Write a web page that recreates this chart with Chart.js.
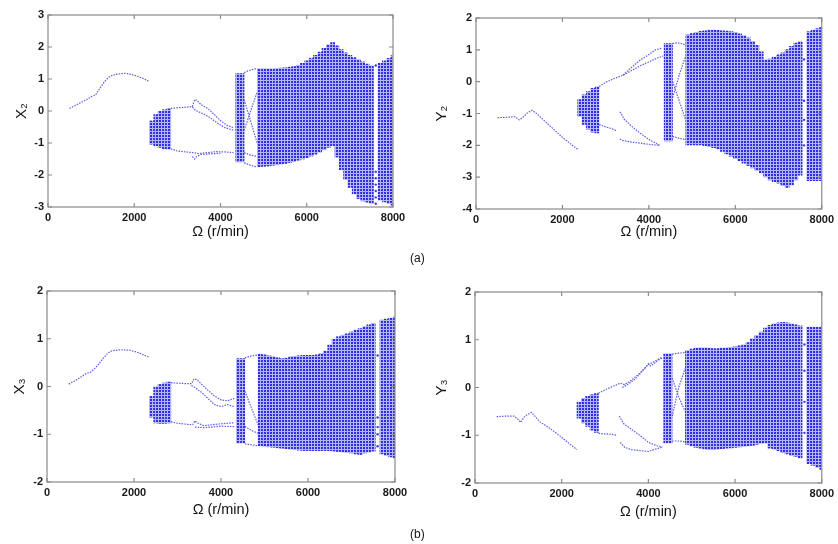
<!DOCTYPE html>
<html>
<head>
<meta charset="utf-8">
<script src="https://cdn.jsdelivr.net/npm/chart.js@4.4.0/dist/chart.umd.min.js"></script>
<style>
body { margin: 0; background: #fff; }
#wrap { position: relative; width: 838px; height: 544px; background: #fff; overflow: hidden; font-family: "Liberation Sans", Arial, sans-serif; }
canvas { position: absolute; }
.tag { position: absolute; font-size: 12px; color: #111; }
</style>
</head>
<body>
<div id="wrap">
  <canvas id="c1" width="418" height="262" style="left:0px;top:0px"></canvas>
  <canvas id="c2" width="418" height="262" style="left:420px;top:0px"></canvas>
  <canvas id="c3" width="418" height="262" style="left:0px;top:270px"></canvas>
  <canvas id="c4" width="418" height="262" style="left:420px;top:270px"></canvas>
  <div class="tag" style="left:410px;top:251px">(a)</div>
  <div class="tag" style="left:410px;top:527px">(b)</div>
</div>
<script>
// speed grid of the chaotic bands (r/min)
const bandAOmega = [2400, 2500, 2600, 2700, 2800];
const bandBOmega = [4400, 4500];
const bandCOmega = [4900, 5000, 5100, 5200, 5300, 5400, 5500, 5600, 5700, 5800, 5900, 6000, 6100, 6200,
  6300, 6400, 6500, 6600, 6700, 6800, 6900, 7000, 7100, 7200, 7300, 7400, 7500];
const bandDOmega = [7700, 7800, 7900, 8000];
const omegaTicks = [0, 2000, 4000, 6000, 8000];

// X2
const x2BandALow = [-1.05, -1.1, -1.15, -1.2, -1.2];
const x2BandAHigh = [-0.3, -0.1, 0.0, 0.05, 0.08];
const x2BandBLow = [-1.6, -1.6];
const x2BandBHigh = [1.18, 1.18];
const x2BandCLow = [-1.75, -1.74, -1.73, -1.71, -1.69, -1.67, -1.65, -1.62, -1.59, -1.55, -1.51, -1.47, -1.42, -1.36,
  -1.3, -1.22, -1.15, -1.1, -1.45, -1.85, -2.15, -2.4, -2.6, -2.75, -2.82, -2.86, -2.9];
const x2BandCHigh = [1.33, 1.33, 1.33, 1.33, 1.34, 1.35, 1.36, 1.38, 1.4, 1.44, 1.5, 1.58, 1.66, 1.75,
  1.85, 1.97, 2.08, 2.15, 2.05, 1.93, 1.83, 1.75, 1.68, 1.62, 1.55, 1.48, 1.42];
const x2BandDLow = [-2.8, -2.85, -2.9, -2.95];
const x2BandDHigh = [1.5, 1.58, 1.66, 1.74];
const x2Curves = [
  [[500, 0.08], [700, 0.22], [900, 0.36], [1000, 0.45], [1100, 0.5], [1200, 0.7], [1300, 0.9], [1400, 1.05], [1500, 1.12], [1600, 1.15], [1800, 1.18], [2000, 1.12], [2200, 1.02], [2350, 0.92]],
  [[2850, 0.08], [3000, 0.1], [3200, 0.12], [3350, 0.14], [3400, 0.36], [3450, 0.33], [3550, 0.2], [3700, 0.08], [3850, -0.1], [4000, -0.3], [4150, -0.45], [4300, -0.52]],
  [[3350, 0.12], [3420, 0.02], [3500, -0.03], [3650, -0.12], [3800, -0.25], [3950, -0.4], [4100, -0.52], [4300, -0.6]],
  [[2850, -1.18], [3000, -1.25], [3200, -1.28], [3350, -1.3], [3500, -1.33], [3700, -1.3], [3900, -1.27], [4100, -1.28], [4300, -1.3]],
  [[3350, -1.42], [3400, -1.5], [3450, -1.42], [3550, -1.36], [3750, -1.34], [4000, -1.32]],
  [[4550, 1.2], [4650, 1.26], [4750, 1.3], [4850, 1.32]],
  [[4550, -1.3], [4700, -1.38], [4850, -1.42]],
  [[4550, -1.62], [4700, -1.7], [4850, -1.75]],
  [[4550, 0.35], [4650, -0.1], [4750, -0.55], [4850, -1.0]],
  [[4550, -0.6], [4700, 0.0], [4850, 0.6]]
];
const x2Dots = [[7600, 1.42], [7600, -1.9], [7600, -2.1], [7600, -2.3], [7600, -2.5], [7600, -2.7], [7600, -2.9]];

// Y2
const y2BandALow = [-1.1, -1.35, -1.5, -1.6, -1.62];
const y2BandAHigh = [-0.55, -0.4, -0.3, -0.2, -0.15];
const y2BandBLow = [-1.87, -1.87];
const y2BandBHigh = [1.21, 1.21];
const y2BandCLow = [-2.0, -2.0, -2.0, -2.0, -2.02, -2.05, -2.08, -2.12, -2.2, -2.28, -2.35, -2.42, -2.5, -2.57,
  -2.65, -2.72, -2.8, -2.88, -3.0, -3.1, -3.15, -3.2, -3.28, -3.33, -3.25, -3.1, -2.95];
const y2BandCHigh = [1.48, 1.52, 1.56, 1.59, 1.61, 1.63, 1.63, 1.62, 1.61, 1.6, 1.58, 1.56, 1.51, 1.46,
  1.39, 1.28, 1.15, 0.95, 0.7, 0.72, 0.78, 0.85, 0.92, 1.02, 1.12, 1.22, 1.27];
const y2BandDLow = [-3.12, -3.12, -3.12, -3.12];
const y2BandDHigh = [1.58, 1.63, 1.68, 1.72];
const y2Curves = [
  [[500, -1.13], [700, -1.12], [900, -1.1], [1000, -1.2], [1100, -1.1], [1200, -0.97], [1300, -0.9], [1400, -1.0], [1600, -1.25], [1800, -1.5], [2000, -1.75], [2200, -1.97], [2350, -2.12]],
  [[2850, -0.15], [3000, -0.02], [3200, 0.1], [3400, 0.2], [3600, 0.35], [3800, 0.5], [4000, 0.62], [4200, 0.75], [4330, 0.8]],
  [[3400, 0.2], [3600, 0.45], [3800, 0.68], [4000, 0.85], [4150, 1.0], [4300, 1.05]],
  [[2850, -1.35], [3000, -1.42], [3150, -1.48], [3260, -1.55]],
  [[3330, -0.95], [3380, -1.05], [3420, -1.17], [3600, -1.4], [3800, -1.62], [4000, -1.82], [4250, -2.0]],
  [[3330, -1.8], [3400, -1.85], [3600, -1.9], [3800, -1.93], [4000, -1.97], [4250, -2.0]],
  [[4550, 1.2], [4650, 1.22], [4750, 1.2], [4850, 1.15]],
  [[4550, -1.72], [4700, -1.78], [4850, -1.82]],
  [[4550, 0.0], [4700, -0.6], [4850, -1.2]],
  [[4550, -0.5], [4700, 0.2], [4850, 0.8]]
];
const y2Dots = [[7590, 0.7], [7590, -0.6], [7590, -1.2], [7590, -2.0]];

// X3
const x3BandALow = [-0.65, -0.77, -0.78, -0.78, -0.77];
const x3BandAHigh = [-0.2, 0.0, 0.05, 0.08, 0.1];
const x3BandBLow = [-1.19, -1.19];
const x3BandBHigh = [0.59, 0.59];
const x3BandCLow = [-1.25, -1.26, -1.27, -1.28, -1.29, -1.3, -1.31, -1.32, -1.33, -1.34, -1.35, -1.35, -1.35, -1.35,
  -1.35, -1.35, -1.35, -1.36, -1.37, -1.38, -1.39, -1.4, -1.42, -1.43, -1.4, -1.38, -1.36];
const x3BandCHigh = [0.68, 0.67, 0.65, 0.63, 0.61, 0.59, 0.6, 0.63, 0.64, 0.65, 0.66, 0.66, 0.66, 0.67,
  0.7, 0.75, 0.88, 1.0, 1.05, 1.08, 1.11, 1.15, 1.19, 1.22, 1.26, 1.3, 1.33];
const x3BandDLow = [-1.42, -1.45, -1.48, -1.5];
const x3BandDHigh = [1.4, 1.42, 1.44, 1.46];
const x3Curves = [
  [[500, 0.05], [700, 0.15], [900, 0.27], [1000, 0.3], [1100, 0.38], [1200, 0.48], [1300, 0.6], [1400, 0.7], [1500, 0.75], [1700, 0.77], [1900, 0.76], [2100, 0.71], [2350, 0.61]],
  [[2850, 0.08], [3000, 0.07], [3200, 0.06], [3320, 0.06], [3380, 0.16], [3450, 0.14], [3550, 0.05], [3700, -0.08], [3850, -0.2], [4000, -0.28], [4150, -0.3], [4300, -0.25]],
  [[3320, 0.02], [3400, -0.02], [3550, -0.12], [3700, -0.25], [3850, -0.38], [4000, -0.42], [4150, -0.38], [4300, -0.42]],
  [[2850, -0.74], [3000, -0.77], [3200, -0.79], [3350, -0.8], [3400, -0.72], [3450, -0.76], [3600, -0.82], [3800, -0.8], [4000, -0.78], [4300, -0.76]],
  [[3400, -0.85], [3600, -0.86], [3800, -0.85], [4000, -0.83], [4300, -0.84]],
  [[4550, 0.6], [4700, 0.64], [4850, 0.66]],
  [[4550, -1.2], [4700, -1.22], [4850, -1.24]],
  [[4550, -0.84], [4700, -0.92], [4850, -0.98]],
  [[4550, -0.1], [4700, -0.45], [4850, -0.8]]
];
const x3Dots = [[7600, 0.65], [7600, -0.65], [7600, -0.85], [7600, -1.0], [7600, -1.25]];

// Y3
const y3BandALow = [-0.65, -0.75, -0.82, -0.9, -0.95];
const y3BandAHigh = [-0.3, -0.22, -0.18, -0.14, -0.12];
const y3BandBLow = [-1.17, -1.17];
const y3BandBHigh = [0.71, 0.71];
const y3BandCLow = [-1.2, -1.23, -1.26, -1.28, -1.3, -1.31, -1.31, -1.3, -1.29, -1.28, -1.27, -1.26, -1.25, -1.24,
  -1.23, -1.22, -1.2, -1.18, -1.17, -1.28, -1.3, -1.33, -1.37, -1.4, -1.43, -1.45, -1.48];
const y3BandCHigh = [0.78, 0.81, 0.83, 0.84, 0.84, 0.83, 0.82, 0.82, 0.83, 0.84, 0.85, 0.86, 0.88, 0.9,
  0.95, 1.03, 1.1, 1.17, 1.25, 1.31, 1.34, 1.36, 1.37, 1.36, 1.34, 1.32, 1.3];
const y3BandDLow = [-1.6, -1.64, -1.68, -1.72];
const y3BandDHigh = [1.27, 1.27, 1.27, 1.27];
const y3Curves = [
  [[500, -0.61], [700, -0.6], [900, -0.6], [1000, -0.67], [1050, -0.73], [1150, -0.6], [1300, -0.52], [1400, -0.62], [1500, -0.72], [1700, -0.84], [1900, -0.97], [2100, -1.12], [2350, -1.3]],
  [[2850, -0.12], [3000, -0.05], [3200, 0.03], [3350, 0.09], [3450, 0.06], [3600, 0.15], [3800, 0.3], [4000, 0.48], [4150, 0.55], [4320, 0.64]],
  [[3400, 0.0], [3550, 0.08], [3700, 0.18], [3900, 0.38], [4000, 0.5], [4050, 0.45], [4200, 0.55], [4320, 0.62]],
  [[2850, -0.96], [3000, -0.97], [3150, -0.98], [3280, -1.0]],
  [[3330, -0.6], [3380, -0.68], [3420, -0.75], [3600, -0.87], [3800, -1.0], [4000, -1.15], [4200, -1.22], [4320, -1.25]],
  [[3350, -1.15], [3450, -1.25], [3600, -1.3], [3800, -1.32], [4000, -1.34], [4200, -1.28], [4320, -1.25]],
  [[4550, 0.7], [4700, 0.72], [4850, 0.73]],
  [[4550, -1.12], [4700, -1.12], [4850, -1.14]],
  [[4550, 0.2], [4700, -0.2], [4850, -0.5]],
  [[4550, -0.6], [4700, 0.0], [4850, 0.4]]
];
const y3Dots = [[7600, 0.9], [7600, 0.35], [7600, -0.3], [7600, -0.95]];

// dotted texture used for the chaotic bands
function dotPattern() {
  const t = document.createElement("canvas");
  t.width = 3;
  t.height = 3;
  const g = t.getContext("2d");
  g.fillStyle = "rgb(180,180,247)";
  g.fillRect(0, 0, 3, 3);
  g.fillStyle = "rgb(45,45,228)";
  g.fillRect(0, 0, 2, 2);
  return g.createPattern(t, "repeat");
}
const bandFill = dotPattern();

function band(omega, low, high) {
  return {
    type: "bar",
    data: omega.map((w, i) => ({ x: w, y: [low[i], high[i]] })),
    backgroundColor: bandFill,
    borderWidth: 0,
    barPercentage: 1.08,
    categoryPercentage: 1,
    grouped: false,
    order: 2
  };
}

function curve(points) {
  return {
    type: "scatter",
    data: points.map(p => ({ x: p[0], y: p[1] })),
    showLine: true,
    borderColor: "rgb(92,92,228)",
    borderWidth: 1.2,
    borderDash: [1.5, 1.2],
    pointRadius: 0,
    order: 1
  };
}

// matlab style box with inward ticks
const boxPlugin = {
  id: "box",
  afterDatasetsDraw(chart) {
    const { ctx, chartArea: a, scales } = chart;
    ctx.save();
    ctx.strokeStyle = "#8a8a8a";
    ctx.lineWidth = 1.2;
    ctx.strokeRect(a.left, a.top, a.right - a.left, a.bottom - a.top);
    ctx.beginPath();
    scales.x.ticks.forEach(t => {
      const px = scales.x.getPixelForValue(t.value);
      ctx.moveTo(px, a.bottom); ctx.lineTo(px, a.bottom - 4);
      ctx.moveTo(px, a.top); ctx.lineTo(px, a.top + 4);
    });
    scales.y.ticks.forEach(t => {
      const py = scales.y.getPixelForValue(t.value);
      ctx.moveTo(a.left, py); ctx.lineTo(a.left + 4, py);
      ctx.moveTo(a.right, py); ctx.lineTo(a.right - 4, py);
    });
    ctx.stroke();
    ctx.restore();
  }
};

const tickFont = { family: "Liberation Sans", size: 11, weight: "bold" };

function panel(id, p) {
  const datasets = [
    band(bandAOmega, p.aLow, p.aHigh),
    band(bandBOmega, p.bLow, p.bHigh),
    band(bandCOmega, p.cLow, p.cHigh),
    band(bandDOmega, p.dLow, p.dHigh)
  ];
  p.curves.forEach(c => datasets.push(curve(c)));
  datasets.push({
    type: "scatter",
    data: p.dots.map(d => ({ x: d[0], y: d[1] })),
    pointRadius: 1.2,
    pointBackgroundColor: "rgb(60,60,228)",
    pointBorderWidth: 0,
    order: 1
  });

  new Chart(document.getElementById(id), {
    type: "scatter",
    data: { datasets: datasets },
    plugins: [boxPlugin],
    options: {
      responsive: false,
      animation: false,
      layout: { padding: { top: p.top, right: p.right, left: 0, bottom: 0 } },
      plugins: { legend: { display: false }, tooltip: { enabled: false } },
      scales: {
        x: {
          type: "linear",
          offset: false,
          min: 0,
          max: 8000,
          afterBuildTicks: s => { s.ticks = omegaTicks.map(v => ({ value: v })); },
          afterFit: s => { s.height = p.xH; },
          grid: { display: false, drawTicks: false, offset: false },
          border: { display: false },
          ticks: { padding: 4, color: "#1a1a1a", font: tickFont, maxRotation: 0, callback: v => String(v) },
          title: { display: true, text: "Ω (r/min)", color: "#111", font: { family: "Liberation Sans", size: 14.5 }, padding: { top: 0, bottom: p.xTitlePad } }
        },
        y: {
          min: p.yMin,
          max: p.yMax,
          afterFit: s => { s.width = p.yW; },
          grid: { display: false, drawTicks: false },
          border: { display: false },
          ticks: { stepSize: 1, padding: 4, color: "#1a1a1a", font: tickFont, callback: v => String(v) },
          title: { display: true, text: p.label, color: "#111", font: { family: "Liberation Sans", size: 15 }, padding: { top: p.yTitlePad, bottom: 0 } }
        }
      }
    }
  });
}

panel("c1", {
  label: "X₂", yMin: -3, yMax: 3, top: 15, right: 25, xH: 55, yW: 48, xTitlePad: 21, yTitlePad: 13,
  aLow: x2BandALow, aHigh: x2BandAHigh, bLow: x2BandBLow, bHigh: x2BandBHigh,
  cLow: x2BandCLow, cHigh: x2BandCHigh, dLow: x2BandDLow, dHigh: x2BandDHigh,
  curves: x2Curves, dots: x2Dots
});
panel("c2", {
  label: "Y₂", yMin: -4, yMax: 2, top: 18, right: 14, xH: 53, yW: 56, xTitlePad: 21, yTitlePad: 13,
  aLow: y2BandALow, aHigh: y2BandAHigh, bLow: y2BandBLow, bHigh: y2BandBHigh,
  cLow: y2BandCLow, cHigh: y2BandCHigh, dLow: y2BandDLow, dHigh: y2BandDHigh,
  curves: y2Curves, dots: y2Dots
});
panel("c3", {
  label: "X₃", yMin: -2, yMax: 2, top: 21, right: 23, xH: 50, yW: 47, xTitlePad: 13, yTitlePad: 11,
  aLow: x3BandALow, aHigh: x3BandAHigh, bLow: x3BandBLow, bHigh: x3BandBHigh,
  cLow: x3BandCLow, cHigh: x3BandCHigh, dLow: x3BandDLow, dHigh: x3BandDHigh,
  curves: x3Curves, dots: x3Dots
});
panel("c4", {
  label: "Y₃", yMin: -2, yMax: 2, top: 22, right: 14, xH: 49, yW: 55, xTitlePad: 11, yTitlePad: 13,
  aLow: y3BandALow, aHigh: y3BandAHigh, bLow: y3BandBLow, bHigh: y3BandBHigh,
  cLow: y3BandCLow, cHigh: y3BandCHigh, dLow: y3BandDLow, dHigh: y3BandDHigh,
  curves: y3Curves, dots: y3Dots
});
</script>
</body>
</html>
